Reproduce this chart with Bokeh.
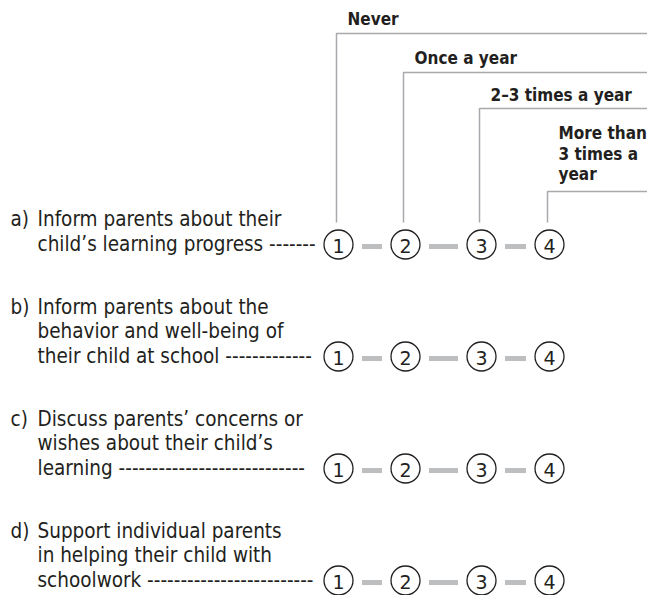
from bokeh.plotting import figure
from bokeh.models import Range1d
from bokeh.core.properties import value
from bokeh.embed import file_html
from bokeh.resources import INLINE

# ---- data ----
response_lines = [["Never"], ["Once a year"], ["2–3 times a year"], ["More than", "3 times a", "year"]]
codes = ["1", "2", "3", "4"]
item_letters = ["a)", "b)", "c)", "d)"]
item_lines = [
    ["Inform parents about their", "child’s learning progress -------"],
    ["Inform parents about the", "behavior and well-being of", "their child at school -------------"],
    ["Discuss parents’ concerns or", "wishes about their child’s", "learning ----------------------------"],
    ["Support individual parents", "in helping their child with", "schoolwork -------------------------"],
]

# ---- layout ----
W, H = 647, 595
FONT = "DejaVu Sans Condensed, Liberation Sans"
TXT = "#231f20"
GRAY = "#a7a9ac"
col_line_x = [336, 403, 479, 547]
col_x = [x + 2 for x in col_line_x]
head_line_y = [33, 72, 108, 191]
head_base_y = [[18], [57], [94], [132, 153, 173]]
row_y = [244 + 112 * i for i in range(4)]
line_gap = 24.5
circ_r = 14.5

p = figure(width=W, height=H, x_range=Range1d(0, W), y_range=Range1d(H, 0),
           output_backend="svg", toolbar_location=None, min_border=0)
p.axis.visible = False
p.grid.visible = False
p.outline_line_color = None
p.background_fill_color = "white"

# header bracket lines
xs, ys = [], []
for i in range(4):
    xs.append([col_line_x[i], col_line_x[i], W + 20])
    ys.append([222, head_line_y[i], head_line_y[i]])
p.multi_line(xs, ys, line_color=GRAY, line_width=1.5)

# header labels
hx, hy, ht = [], [], []
for i, lines in enumerate(response_lines):
    for j, t in enumerate(lines):
        hx.append(col_line_x[i] + 11)
        hy.append(head_base_y[i][j])
        ht.append(t)
p.text(x=hx, y=hy, text=ht, text_font=value(FONT), text_font_style="bold",
       text_font_size="17px", text_color=TXT, text_baseline="alphabetic")

# item labels
lx, ly, lt = [], [], []
ax, ay, at = [], [], []
for r, lines in enumerate(item_lines):
    n = len(lines)
    base_last = row_y[r] - 1
    for j, t in enumerate(lines):
        lx.append(37)
        ly.append(base_last - (n - 1 - j) * line_gap)
        lt.append(t)
    ax.append(10)
    ay.append(base_last - (n - 1) * line_gap)
    at.append(item_letters[r])
p.text(x=lx, y=ly, text=lt, text_font=value(FONT), text_font_size="20.5px",
       text_color=TXT, text_baseline="alphabetic")
p.text(x=ax, y=ay, text=at, text_font=value(FONT), text_font_size="20.5px",
       text_color=TXT, text_baseline="alphabetic")

# gray connectors
sx0, sx1, sy = [], [], []
for r in range(4):
    for i in range(3):
        sx0.append(col_x[i] + circ_r + 9)
        sx1.append(col_x[i + 1] - circ_r - 9)
        sy.append(row_y[r] + 2)
p.segment(x0=sx0, y0=sy, x1=sx1, y1=sy, line_color="#bcbec0", line_width=5)

# circles with codes
cx, cy, ct = [], [], []
for r in range(4):
    for i in range(4):
        cx.append(col_x[i])
        cy.append(row_y[r])
        ct.append(codes[i])
p.scatter(x=cx, y=cy, marker="circle", size=2 * circ_r, fill_color="white",
          line_color=TXT, line_width=1.3)
p.text(x=cx, y=[v + 1 for v in cy], text=ct, text_font=value("DejaVu Sans"),
       text_font_size="19px", text_color=TXT, text_align="center", text_baseline="middle")

open("out.html", "w").write(file_html(p, INLINE))
